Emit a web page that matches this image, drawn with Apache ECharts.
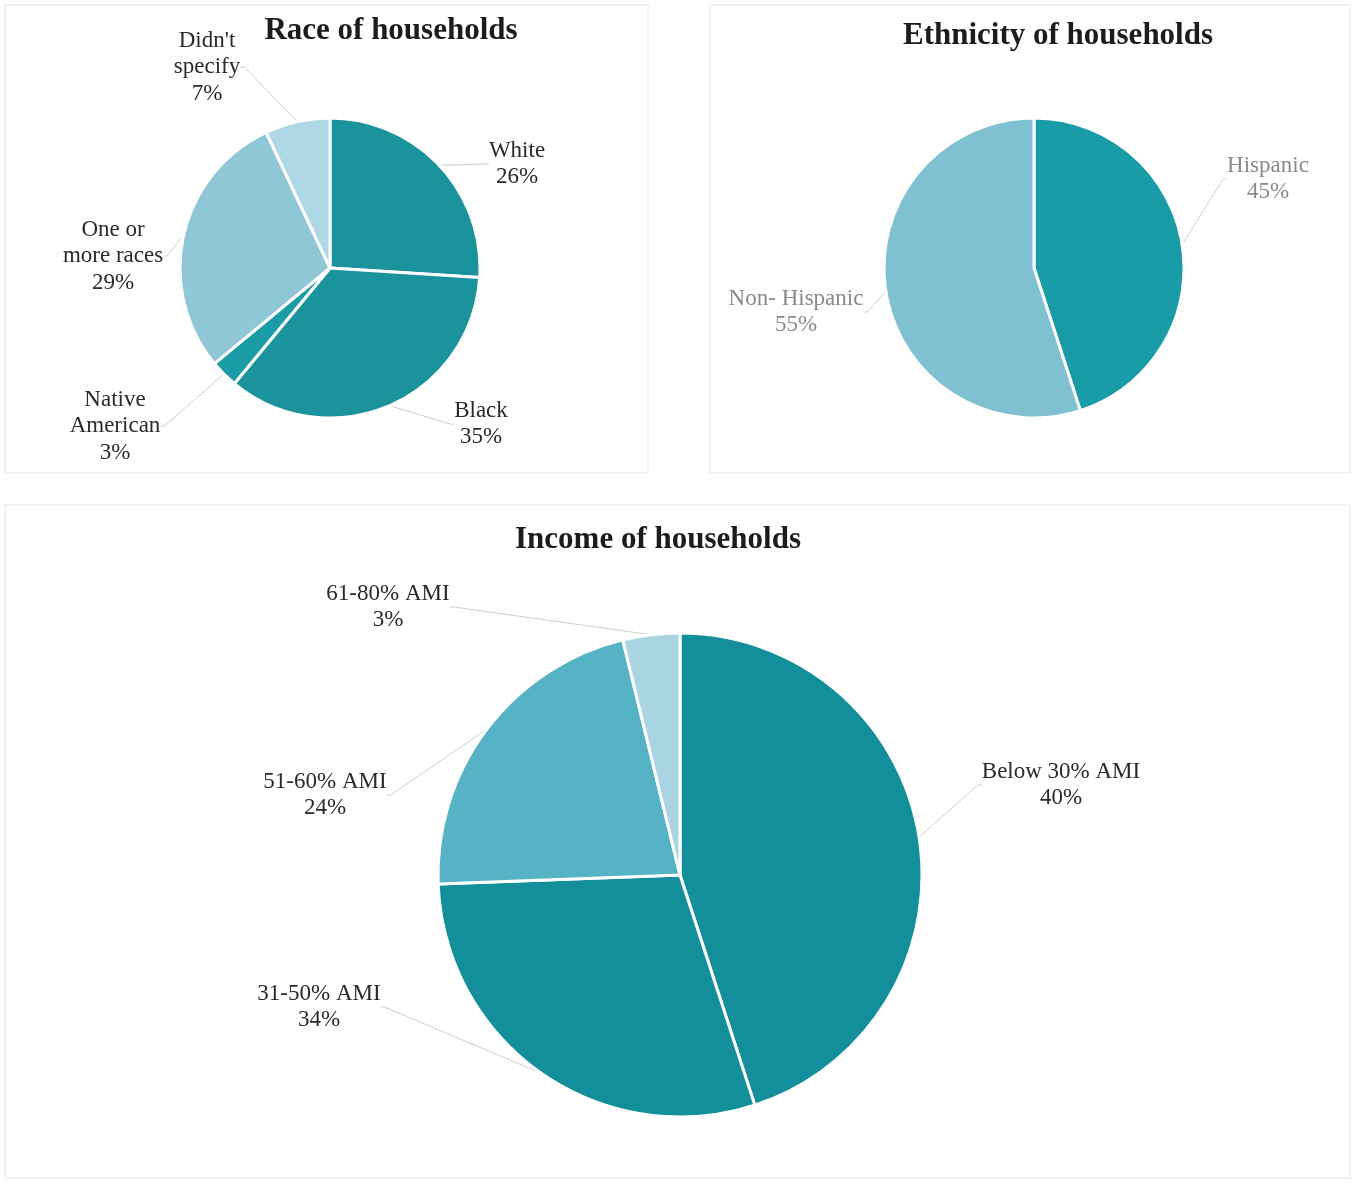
<!DOCTYPE html>
<html>
<head>
<meta charset="utf-8">
<script src="https://cdn.jsdelivr.net/npm/echarts@6/dist/echarts.min.js"></script>
<style>
html,body{margin:0;padding:0;background:#fff;}
#chart{width:1356px;height:1184px;}
</style>
</head>
<body>
<div id="chart"></div>
<script>
// ---- Data ----
const raceCategories = ["White", "Black", "Native American", "One or more races", "Didn't specify"];
const raceLabelText = ["White", "Black", "Native\nAmerican", "One or\nmore races", "Didn't\nspecify"];
const raceValues = [26, 35, 3, 29, 7];

const ethnicityCategories = ["Hispanic", "Non- Hispanic"];
const ethnicityValues = [45, 55];

const incomeCategories = ["Below 30% AMI", "31-50% AMI", "51-60% AMI", "61-80% AMI"];
// slice shares as drawn in the picture
const incomeValues = [45, 29.4, 21.8, 3.8];
// percentages printed on the labels
const incomeLabelPct = [40, 34, 24, 3];

// ---- Styling / layout ----
const raceColors = ["#1b939d", "#1b939d", "#1a9ca6", "#8fc7d7", "#aed8e6"];
const ethColors = ["#1a9ba8", "#80c1d1"];
const incomeColors = ["#128f9b", "#128f9b", "#56b3c6", "#a9d5e3"];

const raceLabelPos = [[517,164],[481,424],[115,426],[113,256],[207,67]];
const ethLabelPos = [[1268,179],[796,312]];
const incomeLabelPos = [[1061,785],[319,1007],[325,795],[388,607]];

const serif = "'Liberation Serif', 'DejaVu Serif', serif";

function makeLayout(pos){
  return function(p){
    const q = pos[p.dataIndex];
    return {x:q[0], y:q[1], align:'center', verticalAlign:'middle'};
  };
}

const chart = echarts.init(document.getElementById('chart'), null, {renderer:'canvas'});

const titleStyle = {fontFamily: serif, fontWeight:'bold', fontSize:31, color:'#1c1c1c'};

const option = {
  backgroundColor:'#fff',
  animation:false,
  title:[
    {text:'Race of households', left:391, top:15, textAlign:'center', padding:0, textStyle:titleStyle},
    {text:'Ethnicity of households', left:1058, top:20, textAlign:'center', padding:0, textStyle:titleStyle},
    {text:'Income of households', left:658, top:524, textAlign:'center', padding:0, textStyle:titleStyle}
  ],
  graphic:[
    {type:'rect', shape:{x:5,y:5,width:643,height:468}, style:{fill:'none', stroke:'#f1f1f1', lineWidth:2}, silent:true},
    {type:'rect', shape:{x:710,y:5,width:640,height:468}, style:{fill:'none', stroke:'#f1f1f1', lineWidth:2}, silent:true},
    {type:'rect', shape:{x:5,y:505,width:1345,height:673}, style:{fill:'none', stroke:'#f1f1f1', lineWidth:2}, silent:true}
  ],
  series:[
    {
      type:'pie', center:[330,268], radius:[0,150], startAngle:90, clockwise:true,
      itemStyle:{borderColor:'#fff', borderWidth:3},
      data: raceCategories.map((c,i)=>({name:c, value:raceValues[i], itemStyle:{color:raceColors[i]}})),
      label:{show:true, position:'outside', fontFamily:serif, fontSize:23, lineHeight:26.5, color:'#2a2a2a',
        formatter:p=>raceLabelText[p.dataIndex]+'\n'+raceValues[p.dataIndex]+'%'},
      labelLine:{show:true, length2:4, lineStyle:{color:'#cfcfcf', width:1}},
      labelLayout: makeLayout(raceLabelPos)
    },
    {
      type:'pie', center:[1034,268], radius:[0,150], startAngle:90, clockwise:true,
      itemStyle:{borderColor:'#fff', borderWidth:3},
      data: ethnicityCategories.map((c,i)=>({name:c, value:ethnicityValues[i], itemStyle:{color:ethColors[i]}})),
      label:{show:true, position:'outside', fontFamily:serif, fontSize:23, lineHeight:26.5, color:'#8a8a8a',
        formatter:p=>ethnicityCategories[p.dataIndex]+'\n'+ethnicityValues[p.dataIndex]+'%'},
      labelLine:{show:true, length2:4, lineStyle:{color:'#cfcfcf', width:1}},
      labelLayout: makeLayout(ethLabelPos)
    },
    {
      type:'pie', center:[680,875], radius:[0,242], startAngle:90, clockwise:true,
      itemStyle:{borderColor:'#fff', borderWidth:3},
      data: incomeCategories.map((c,i)=>({name:c, value:incomeValues[i], itemStyle:{color:incomeColors[i]}})),
      label:{show:true, position:'outside', fontFamily:serif, fontSize:23, lineHeight:26.5, color:'#2a2a2a',
        formatter:p=>incomeCategories[p.dataIndex]+'\n'+incomeLabelPct[p.dataIndex]+'%'},
      labelLine:{show:true, length2:4, lineStyle:{color:'#cfcfcf', width:1}},
      labelLayout: makeLayout(incomeLabelPos)
    }
  ]
};
chart.setOption(option);
</script>
</body>
</html>
